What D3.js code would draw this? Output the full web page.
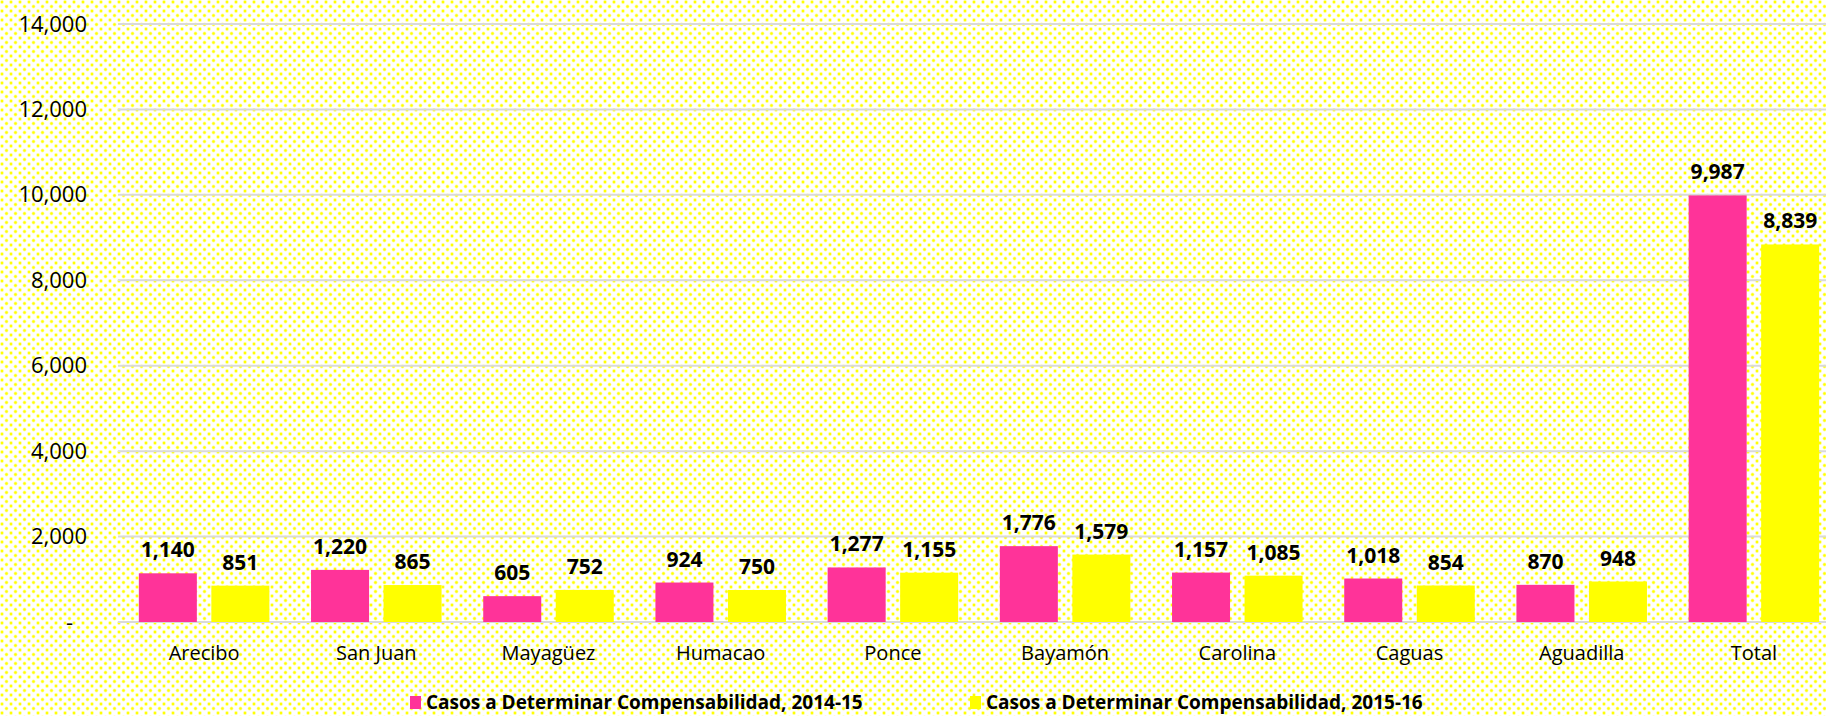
<!DOCTYPE html>
<html>
<head>
<meta charset="utf-8">
<script src="https://cdn.jsdelivr.net/npm/d3@7"></script>
<style>
    html, body { margin: 0; padding: 0; background: #fff; }
    svg { display: block; }
</style>
</head>
<body>
<div class="chart-wrap"></div>
<script>

var categories = ['Arecibo', 'San Juan', 'Mayagüez', 'Humacao', 'Ponce', 'Bayamón', 'Carolina', 'Caguas', 'Aguadilla', 'Total'];
var seriesNames = ['Casos a Determinar Compensabilidad, 2014-15', 'Casos a Determinar Compensabilidad, 2015-16'];
var values1415 = [1140, 1220, 605, 924, 1277, 1776, 1157, 1018, 870, 9987];
var values1516 = [851, 865, 752, 750, 1155, 1579, 1085, 854, 948, 8839];
var yTicks = [0, 2000, 4000, 6000, 8000, 10000, 12000, 14000];
var colors = ['#ff3399', '#ffff00'];

(function () {

    var W = 1826, H = 716;
    var left = 118, right = 1840, top = 24, bottom = 622;

    var svg = d3.select('.chart-wrap').append('svg')
        .attr('width', W)
        .attr('height', H)
        .style('font-family', '"Open Sans", "Noto Sans", sans-serif');

    // dotted background like the excel pattern fill
    var pat = svg.append('defs').append('pattern')
        .attr('id', 'dots')
        .attr('patternUnits', 'userSpaceOnUse')
        .attr('width', 9)
        .attr('height', 9);
    pat.append('rect').attr('width', 9).attr('height', 9).attr('fill', '#ffffff');
    [[2, 2], [6.5, 6.5]].forEach(function (p) {
        pat.append('circle').attr('cx', p[0]).attr('cy', p[1]).attr('r', 1.9).attr('fill', '#ffff99');
        pat.append('circle').attr('cx', p[0]).attr('cy', p[1]).attr('r', 1.2).attr('fill', '#ffff00');
    });

    svg.append('rect')
        .attr('width', W)
        .attr('height', H)
        .attr('fill', 'url(#dots)');

    var x0 = d3.scaleBand()
        .domain(categories)
        .range([left, right])
        .paddingInner(0.242)
        .paddingOuter(0.121);

    var x1 = d3.scaleBand()
        .domain([0, 1])
        .range([0, x0.bandwidth()])
        .paddingInner(0.2);

    var y = d3.scaleLinear()
        .domain([0, 14000])
        .range([bottom, top]);

    // grid
    svg.append('g')
        .selectAll('line')
        .data(yTicks)
        .enter()
        .append('line')
        .attr('x1', left)
        .attr('x2', W)
        .attr('y1', function (d) { return y(d); })
        .attr('y2', function (d) { return y(d); })
        .attr('stroke', '#d9d9d9')
        .attr('stroke-width', 2);

    // y axis labels
    var yAxis = d3.axisLeft(y)
        .tickValues(yTicks)
        .tickSize(0)
        .tickPadding(0)
        .tickFormat(function (d) { return d === 0 ? '-' : d3.format(',')(d); });

    var yg = svg.append('g')
        .attr('transform', 'translate(87,0)')
        .call(yAxis);
    yg.select('.domain').remove();
    yg.selectAll('text')
        .attr('fill', '#000')
        .attr('font-size', 22)
        .attr('font-family', '"Open Sans", sans-serif')
        .attr('dx', function (d) { return d === 0 ? -14 : 0; });

    // x axis labels
    var xAxis = d3.axisBottom(x0).tickSize(0).tickPadding(0);
    var xg = svg.append('g')
        .attr('transform', 'translate(0,' + bottom + ')')
        .call(xAxis);
    xg.select('.domain').remove();
    xg.selectAll('text')
        .attr('fill', '#000')
        .attr('font-size', 20)
        .attr('font-family', '"Open Sans", sans-serif')
        .attr('dy', null)
        .attr('y', 38);

    var rows = categories.map(function (c, i) {
        return { cat: c, vals: [values1415[i], values1516[i]] };
    });

    var groups = svg.append('g')
        .selectAll('.grp')
        .data(rows)
        .enter()
        .append('g')
        .attr('class', 'grp')
        .attr('transform', function (d) { return 'translate(' + x0(d.cat) + ',0)'; });

    groups.selectAll('rect')
        .data(function (d) { return d.vals; })
        .enter()
        .append('rect')
        .attr('x', function (v, j) { return x1(j); })
        .attr('y', function (v) { return y(v); })
        .attr('width', x1.bandwidth())
        .attr('height', function (v) { return bottom - y(v); })
        .attr('fill', function (v, j) { return colors[j]; });

    groups.selectAll('text')
        .data(function (d) { return d.vals; })
        .enter()
        .append('text')
        .attr('x', function (v, j) { return x1(j) + x1.bandwidth() / 2; })
        .attr('y', function (v) { return y(v) - 16; })
        .attr('text-anchor', 'middle')
        .attr('font-size', 21)
        .attr('font-weight', 'bold')
        .attr('fill', '#000')
        .text(function (v) { return d3.format(',')(v); });

    // legend
    var legendX = [410, 970];
    var lg = svg.append('g')
        .selectAll('g')
        .data(seriesNames)
        .enter()
        .append('g')
        .attr('transform', function (d, i) { return 'translate(' + legendX[i] + ',696)'; });
    lg.append('rect')
        .attr('width', 11)
        .attr('height', 13)
        .attr('fill', function (d, i) { return colors[i]; });
    lg.append('text')
        .attr('x', 16)
        .attr('y', 13)
        .attr('font-size', 19)
        .attr('font-weight', 'bold')
        .attr('fill', '#000')
        .text(function (d) { return d; });

})();
</script>
</body>
</html>
